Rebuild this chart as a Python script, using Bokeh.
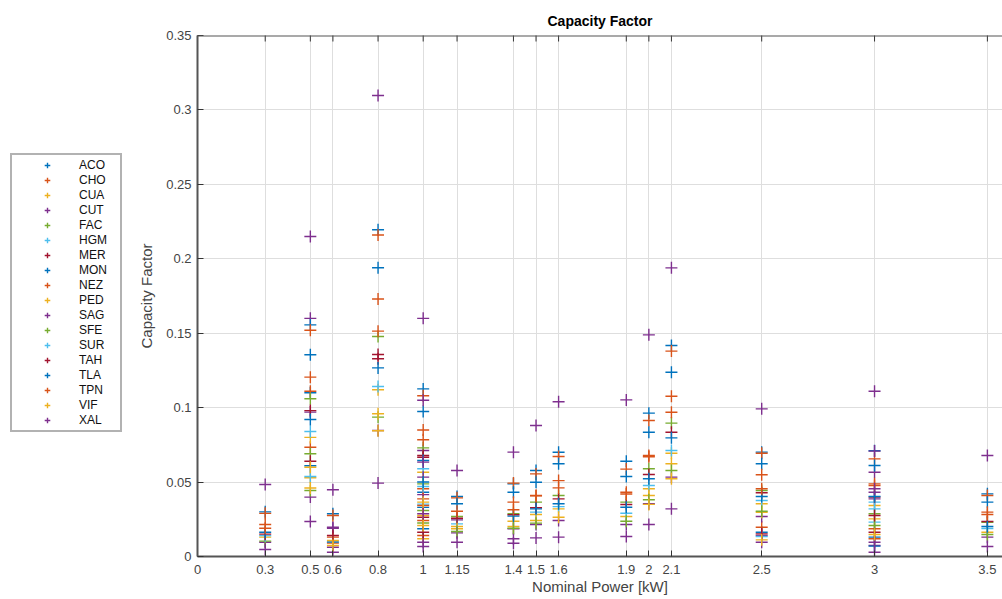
import math
from bokeh.plotting import figure
from bokeh.layouts import row
from bokeh.models import Legend, LegendItem, FixedTicker, Range1d, ColumnDataSource, Span
from bokeh.embed import file_html
from bokeh.resources import INLINE

STATIONS = ["ACO", "CHO", "CUA", "CUT", "FAC", "HGM", "MER", "MON", "NEZ",
            "PED", "SAG", "SFE", "SUR", "TAH", "TLA", "TPN", "VIF", "XAL"]
COLOR_ORDER = ["#0072BD", "#D95319", "#EDB120", "#7E2F8E", "#77AC30", "#4DBEEE", "#A2142F"]

X_TICKS = [0, 0.3, 0.5, 0.6, 0.8, 1, 1.15, 1.4, 1.5, 1.6, 1.9, 2, 2.1, 2.5, 3, 3.5]
X_TICK_LABELS = ["0", "0.3", "0.5", "0.6", "0.8", "1", "1.15", "1.4", "1.5", "1.6",
                 "1.9", "2", "2.1", "2.5", "3", "3.5"]
Y_TICKS = [0, 0.05, 0.1, 0.15, 0.2, 0.25, 0.3, 0.35]
Y_TICK_LABELS = ["0", "0.05", "0.1", "0.15", "0.2", "0.25", "0.3", "0.35"]
Y_MAX = 0.35

# Capacity factor per nominal power [kW]: station codes and values
P030_ST = ["XAL", "ACO", "CHO", "NEZ", "TPN", "MON", "MER", "HGM", "CUA", "FAC", "CUT", "SAG"]
P030_CF = [0.0484, 0.030, 0.029, 0.0215, 0.019, 0.0163, 0.015, 0.014, 0.013, 0.0103, 0.0096, 0.0047]

P050_ST = ["XAL", "SAG", "TLA", "TPN", "ACO", "CHO", "NEZ", "MON", "SFE", "TAH", "CUT", "TLA",
           "SUR", "PED", "CHO", "FAC", "MER", "ACO", "VIF", "HGM", "CUA", "VIF", "FAC", "CUT", "SAG"]
P050_CF = [0.215, 0.160, 0.1556, 0.152, 0.1355, 0.1205, 0.111, 0.110, 0.106, 0.098, 0.097, 0.092,
           0.084, 0.080, 0.0734, 0.069, 0.064, 0.061, 0.060, 0.0537, 0.0529, 0.046, 0.0443, 0.0399, 0.0235]

P060_ST = ["XAL", "TLA", "TPN", "SAG", "CUT", "TAH", "NEZ", "PED", "MON", "CHO", "VIF", "CUT", "SAG"]
P060_CF = [0.0448, 0.0287, 0.0275, 0.0197, 0.019, 0.0141, 0.013, 0.0107, 0.0097, 0.009, 0.0074, 0.0062, 0.0029]

P080_ST = ["XAL", "ACO", "CHO", "MON", "NEZ", "TPN", "SFE", "MER", "TAH", "TLA", "HGM", "CUA",
           "PED", "FAC", "SAG", "VIF", "CUT"]
P080_CF = [0.3097, 0.2195, 0.216, 0.194, 0.173, 0.1514, 0.1478, 0.1357, 0.1328, 0.1267, 0.1142, 0.112,
           0.0959, 0.0936, 0.0846, 0.0845, 0.0493]

P100_ST = ["XAL", "ACO", "CHO", "SAG", "MON", "NEZ", "TPN", "FAC", "CUT", "MER", "TAH", "TLA",
           "XAL", "HGM", "CUA", "SAG", "TLA", "SFE", "SUR", "NEZ", "ACO", "CUT", "CHO", "HGM",
           "PED", "NEZ", "ACO", "FAC", "PED", "XAL", "MER", "SFE", "TPN", "VIF", "MON", "TAH",
           "CHO", "CUA", "SAG", "CUT"]
P100_CF = [0.160, 0.1126, 0.108, 0.105, 0.0974, 0.085, 0.0784, 0.0730, 0.0712, 0.0678, 0.0667, 0.0645,
           0.0634, 0.0589, 0.0566, 0.0533, 0.050, 0.0488, 0.0470, 0.0455, 0.0432, 0.0416, 0.0387, 0.0352,
           0.0365, 0.0343, 0.033, 0.0309, 0.0275, 0.0287, 0.0264, 0.0225, 0.0242, 0.0208, 0.0186, 0.0163,
           0.0141, 0.0119, 0.0096, 0.0067]

P115_ST = ["XAL", "ACO", "CHO", "MON", "NEZ", "FAC", "MER", "CUT", "HGM", "CUA", "PED", "SFE", "SAG", "XAL"]
P115_CF = [0.0578, 0.0403, 0.0394, 0.0354, 0.0304, 0.0269, 0.0257, 0.0246, 0.0219, 0.0202, 0.0186,
           0.0168, 0.0159, 0.0096]

P140_ST = ["XAL", "CHO", "ACO", "MON", "NEZ", "TPN", "FAC", "MER", "TLA", "CUA", "PED", "SFE", "CUT", "SAG", "CUT"]
P140_CF = [0.0701, 0.0493, 0.0488, 0.0432, 0.0365, 0.0314, 0.0287, 0.028, 0.0271, 0.0237, 0.0202,
           0.019, 0.0186, 0.0119, 0.0089]

P150_ST = ["XAL", "ACO", "CHO", "MON", "NEZ", "TPN", "FAC", "MER", "TLA", "HGM", "CUA", "PED", "SFE", "CUT", "SAG"]
P150_CF = [0.088, 0.0578, 0.0555, 0.0499, 0.041, 0.0408, 0.0365, 0.0327, 0.032, 0.0298, 0.0282,
           0.0242, 0.0224, 0.0215, 0.0125]

P160_ST = ["XAL", "ACO", "CHO", "MON", "NEZ", "TPN", "FAC", "MER", "TLA", "HGM", "CUA", "PED", "CUT", "SAG"]
P160_CF = [0.104, 0.070, 0.0672, 0.0623, 0.051, 0.0461, 0.041, 0.0387, 0.0354, 0.0335, 0.032,
           0.0264, 0.0242, 0.013]

P190_ST = ["XAL", "ACO", "CHO", "MON", "NEZ", "TPN", "FAC", "MER", "TLA", "HGM", "CUA", "SFE", "CUT", "SAG"]
P190_CF = [0.1052, 0.064, 0.0587, 0.0537, 0.0432, 0.042, 0.0365, 0.0349, 0.0331, 0.0291, 0.0269,
           0.0237, 0.0215, 0.0134]

P200_ST = ["XAL", "ACO", "CHO", "MON", "NEZ", "TPN", "FAC", "MER", "TLA", "HGM", "CUA", "PED",
           "SFE", "CUT", "VIF", "SAG"]
P200_CF = [0.1489, 0.0963, 0.0914, 0.0835, 0.0678, 0.067, 0.0589, 0.0551, 0.0522, 0.0477, 0.0455,
           0.041, 0.0381, 0.0354, 0.035, 0.0215]

P210_ST = ["XAL", "ACO", "CHO", "MON", "NEZ", "TPN", "FAC", "MER", "TLA", "HGM", "CUA", "PED",
           "SFE", "CUT", "VIF", "SAG"]
P210_CF = [0.1939, 0.1417, 0.138, 0.1238, 0.1077, 0.0969, 0.0896, 0.0835, 0.0797, 0.0712, 0.0694,
           0.0623, 0.0578, 0.0533, 0.0522, 0.032]

P250_ST = ["XAL", "ACO", "CHO", "MON", "NEZ", "TPN", "FAC", "MER", "TLA", "HGM", "CUA", "SFE",
           "PED", "CUT", "CHO", "ACO", "TAH", "SAG", "SUR", "VIF", "CUT"]
P250_CF = [0.0992, 0.0701, 0.0694, 0.0623, 0.0549, 0.0455, 0.0443, 0.0428, 0.0403, 0.0376, 0.0354,
           0.0304, 0.0297, 0.0269, 0.0197, 0.0163, 0.0152, 0.0141, 0.0134, 0.0112, 0.0096]

P300_ST = ["XAL", "SAG", "ACO", "CHO", "MON", "CUT", "NEZ", "TPN", "XAL", "SAG", "TLA", "MER",
           "CUT", "HGM", "CUA", "SUR", "FAC", "TAH", "PED", "HGM", "SFE", "CHO", "MER", "VIF",
           "ACO", "NEZ", "SAG", "CUT", "MON", "XAL"]
P300_CF = [0.111, 0.0708, 0.071, 0.0656, 0.0611, 0.0566, 0.0488, 0.0477, 0.0455, 0.0432, 0.0403, 0.0399,
           0.0387, 0.0365, 0.0343, 0.032, 0.0287, 0.0275, 0.0253, 0.0231, 0.0208, 0.0186, 0.0163, 0.0148,
           0.013, 0.0119, 0.0096, 0.0074, 0.007, 0.0029]

P350_ST = ["XAL", "ACO", "CHO", "MON", "NEZ", "TPN", "MER", "FAC", "TLA", "HGM", "CUA", "SFE", "CUT", "SAG"]
P350_CF = [0.0678, 0.0421, 0.041, 0.0365, 0.0298, 0.0282, 0.0235, 0.023, 0.0202, 0.0188, 0.0163,
           0.0148, 0.013, 0.0067]

COLUMNS = [(0.3, P030_ST, P030_CF), (0.5, P050_ST, P050_CF), (0.6, P060_ST, P060_CF),
           (0.8, P080_ST, P080_CF), (1.0, P100_ST, P100_CF), (1.15, P115_ST, P115_CF),
           (1.4, P140_ST, P140_CF), (1.5, P150_ST, P150_CF), (1.6, P160_ST, P160_CF),
           (1.9, P190_ST, P190_CF), (2.0, P200_ST, P200_CF), (2.1, P210_ST, P210_CF),
           (2.5, P250_ST, P250_CF), (3.0, P300_ST, P300_CF), (3.5, P350_ST, P350_CF)]

FONT = "Liberation Sans"
AX = "#555555"
LEG_W = 135

p = figure(width=1002 - LEG_W, height=599, x_range=Range1d(0, 3.567), y_range=Range1d(0, Y_MAX),
           output_backend="svg", toolbar_location=None, title="Capacity Factor",
           min_border_left=197 - LEG_W, min_border_right=0, min_border_top=35, min_border_bottom=43)
p.outline_line_color = None
p.background_fill_color = "white"
p.border_fill_color = "white"

p.title.align = "center"
p.title.text_font = FONT
p.title.text_font_size = "14px"
p.title.text_font_style = "bold"
p.title.text_color = "#000000"
p.title.offset = 0
p.title.standoff = 14

xt = FixedTicker(ticks=X_TICKS)
yt = FixedTicker(ticks=Y_TICKS)

for ax in (p.xaxis[0], p.yaxis[0]):
    ax.axis_line_color = AX
    ax.axis_line_width = 2
    ax.major_tick_in = 6
    ax.major_tick_out = 0
    ax.major_tick_line_color = "#333333"
    ax.minor_tick_line_color = None
    ax.major_label_text_font = FONT
    ax.major_label_text_font_size = "13px"
    ax.major_label_text_color = "#444444"
    ax.axis_label_text_font = FONT
    ax.axis_label_text_font_size = "15px"
    ax.axis_label_text_font_style = "normal"
    ax.axis_label_text_color = "#444444"

p.xaxis[0].ticker = xt
p.xaxis[0].major_label_overrides = {t: l for t, l in zip(X_TICKS, X_TICK_LABELS)}
p.xaxis[0].axis_label = "Nominal Power [kW]"
p.xaxis[0].axis_label_standoff = 1
p.xaxis[0].major_label_standoff = 8
p.yaxis[0].ticker = yt
p.yaxis[0].major_label_overrides = {t: l for t, l in zip(Y_TICKS, Y_TICK_LABELS)}
p.yaxis[0].axis_label = "Capacity Factor"
p.yaxis[0].axis_label_standoff = 8
p.yaxis[0].major_label_standoff = 6

# top box edge with inward ticks (MATLAB "box on")
p.add_layout(Span(location=Y_MAX, dimension="width", line_color=AX, line_width=2))
p.scatter(x=X_TICKS, y=[Y_MAX] * len(X_TICKS), marker="dash", angle=math.pi / 2,
          size=12, line_color="#333333", line_width=1)

p.xgrid.ticker = xt
p.ygrid.ticker = yt
p.xgrid.grid_line_color = "#dedede"
p.ygrid.grid_line_color = "#dedede"

# legend panel on the left (separate canvas so it is not clipped by the plot frame)
lf = figure(width=LEG_W, height=599, x_range=Range1d(0, 1), y_range=Range1d(0, 1),
            output_backend="svg", toolbar_location=None, x_axis_type=None, y_axis_type=None,
            min_border=0)
lf.outline_line_color = None
lf.xgrid.visible = False
lf.ygrid.visible = False

NAN = float("nan")
items = []
for i, st in enumerate(STATIONS):
    xs, ys = [], []
    for pw, sts, cfs in COLUMNS:
        for s, v in zip(sts, cfs):
            if s == st:
                xs.append(pw)
                ys.append(v)
    color = COLOR_ORDER[i % 7]
    p.scatter("x", "y", source=ColumnDataSource(dict(x=xs, y=ys)), marker="cross",
              size=12, line_width=1.4, line_color=color)
    lr = lf.scatter("x", "y", source=ColumnDataSource(dict(x=[NAN], y=[NAN])), marker="cross",
                    size=12, line_width=1.4, line_color=color)
    items.append(LegendItem(label=st, renderers=[lr]))

legend = Legend(items=items, location=(10, 124), padding=3, spacing=1, margin=0,
                glyph_width=64, glyph_height=14, label_height=14, label_width=38,
                label_standoff=0, label_text_font=FONT, label_text_font_size="12px",
                label_text_color="#111111", border_line_color="#666666", border_line_width=2,
                background_fill_color="white", background_fill_alpha=1.0)
lf.add_layout(legend)

layout = row(lf, p, spacing=0)
open("out.html", "w").write(file_html(layout, INLINE))
